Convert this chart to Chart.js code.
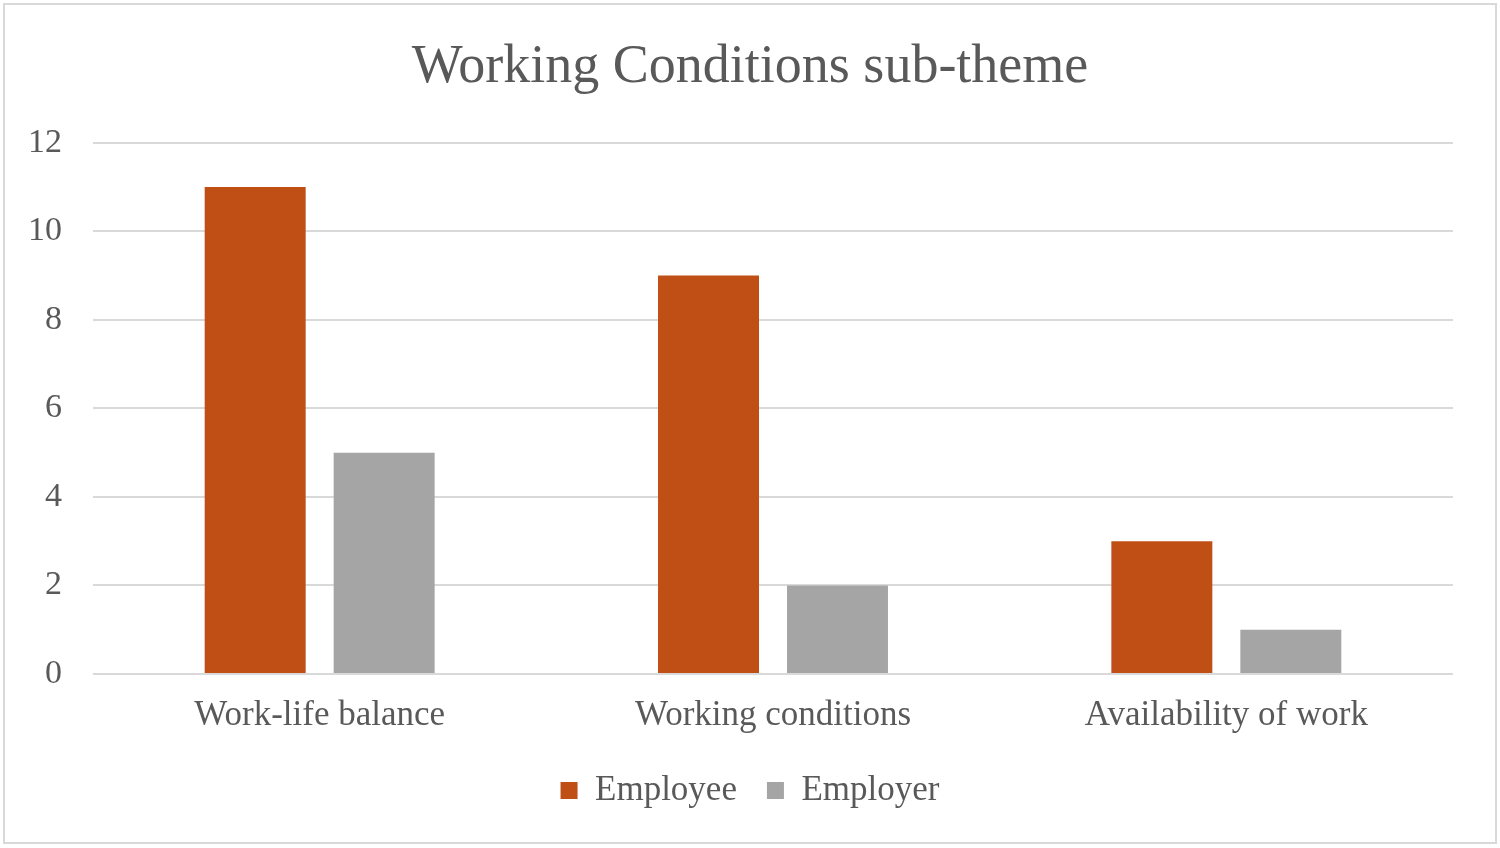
<!DOCTYPE html>
<html>
<head>
<meta charset="utf-8">
<script src="https://cdn.jsdelivr.net/npm/chart.js@4.4.1/dist/chart.umd.min.js"></script>
<style>
  html, body { margin: 0; padding: 0; background: #fff; }
  #wrap { position: relative; width: 1500px; height: 848px; }
  #frame { position: absolute; left: 3px; top: 3px; width: 1490px; height: 837px; border: 2px solid #d9d9d9; pointer-events: none; }
  canvas { position: absolute; left: 0; top: 0; }
</style>
</head>
<body>
<div id="wrap">
  <canvas id="c" width="1500" height="848"></canvas>
  <div id="frame"></div>
</div>
<script>
const categories = ["Work-life balance", "Working conditions", "Availability of work"];
const employeeValues = [11, 9, 3];
const employerValues = [5, 2, 1];
const seriesNames = ["Employee", "Employer"];
const yTicks = [0, 2, 4, 6, 8, 10, 12];

const textColor = "#595959";
const fontFamily = "'Liberation Serif', 'Times New Roman', serif";

new Chart(document.getElementById("c"), {
  type: "bar",
  data: {
    labels: categories,
    datasets: [
      { label: seriesNames[0], data: employeeValues, backgroundColor: "#C04F15", borderColor: "#C04F15", borderWidth: 0 },
      { label: seriesNames[1], data: employerValues, backgroundColor: "#A5A5A5", borderColor: "#A5A5A5", borderWidth: 0 }
    ]
  },
  options: {
    responsive: false,
    animation: false,
    devicePixelRatio: 1,
    layout: { padding: { left: 0, right: 0, top: 0, bottom: 30 } },
    datasets: { bar: { categoryPercentage: 0.569, barPercentage: 0.783 } },
    plugins: {
      title: {
        display: true,
        text: "Working Conditions sub-theme",
        color: textColor,
        font: { family: fontFamily, size: 54, weight: "normal", lineHeight: 1.2 },
        padding: { top: 35, bottom: 43 }
      },
      legend: {
        position: "bottom",
        labels: {
          color: textColor,
          font: { family: fontFamily, size: 35 },
          boxWidth: 17,
          boxHeight: 17,
          padding: 30
        }
      },
      tooltip: { enabled: false }
    },
    scales: {
      x: {
        grid: { display: false, drawTicks: false },
        border: { display: false },
        afterFit: (s) => { s.height = 69; },
        ticks: { color: textColor, font: { family: fontFamily, size: 35 }, padding: 21, maxRotation: 0 }
      },
      y: {
        min: 0, max: 12,
        afterBuildTicks: (s) => { s.ticks = yTicks.map(v => ({ value: v })); },
        afterFit: (s) => { s.width = 93; },
        grid: { color: "#d9d9d9", lineWidth: 2, drawTicks: false },
        border: { display: false },
        ticks: { color: textColor, font: { family: fontFamily, size: 34 }, padding: 31 }
      },
      yRight: {
        position: "right",
        display: true,
        min: 0, max: 12,
        grid: { display: false, drawTicks: false },
        border: { display: false },
        ticks: { display: false },
        afterFit: (s) => { s.width = 47; }
      }
    }
  }
});
</script>
</body>
</html>
